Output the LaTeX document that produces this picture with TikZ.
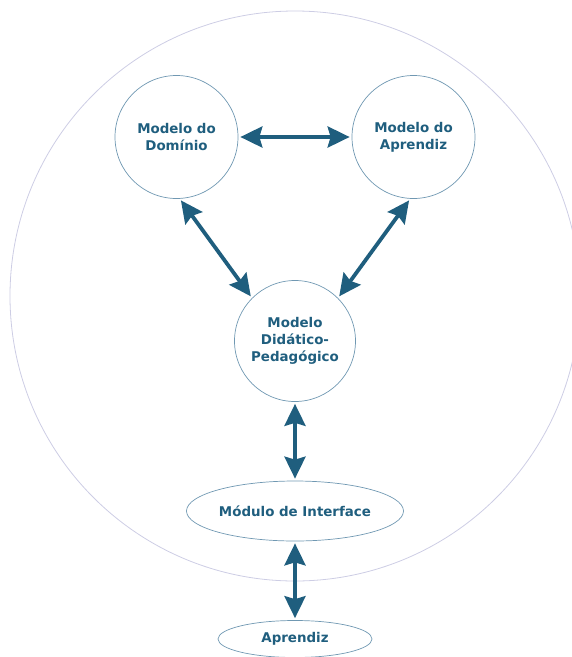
\documentclass[tikz,border=0pt]{standalone}
\usepackage{fontspec}
\setmainfont{DejaVu Sans}
\usetikzlibrary{arrows.meta,shapes.geometric}
\definecolor{ink}{RGB}{31,94,126}
\definecolor{rim}{RGB}{112,152,178}
\definecolor{halo}{RGB}{205,205,228}
\begin{document}
\begin{tikzpicture}[x=1pt,y=-1pt,
  labeltext/.style={text=ink,font=\bfseries\fontsize{13.4}{17}\selectfont,align=center},
  bubble/.style={circle,draw=rim,line width=0.7pt,inner sep=0pt,labeltext},
  oval/.style={ellipse,draw=rim,line width=0.7pt,inner sep=0pt,labeltext},
  link/.style={draw=ink,line width=3.8pt,
    {Stealth[length=22pt,width=21pt,inset=3pt]}-{Stealth[length=22pt,width=21pt,inset=3pt]},
    shorten <=2pt,shorten >=2pt}
]
\useasboundingbox (0,0) rectangle (572,657);
\clip (0,0) rectangle (572,657);

% surrounding system boundary
\draw[halo,line width=0.8pt] (295,296) circle[radius=285pt];

% components
\node[bubble,minimum size=123pt] (dom) at (176.5,137) {Modelo do\\Domínio};
\node[bubble,minimum size=123pt] (apr) at (413.5,137) {Modelo do\\Aprendiz};
\node[bubble,minimum size=121pt] (did) at (295,341) {Modelo\\Didático-\\Pedagógico};
\node[oval,minimum width=217pt,minimum height=60pt] (ui) at (295,511) {Módulo de Interface};
\node[oval,minimum width=154pt,minimum height=37pt] (usr) at (295,639) {Aprendiz};

% connections
\draw[link] (dom.east) -- (apr.west);
\draw[link] (dom.-87) -- (did.135);
\draw[link] (apr.-93) -- (did.45);
\draw[link] (did.south) -- (ui.north);
\draw[link] (ui.south) -- (usr.north);
\end{tikzpicture}
\end{document}
